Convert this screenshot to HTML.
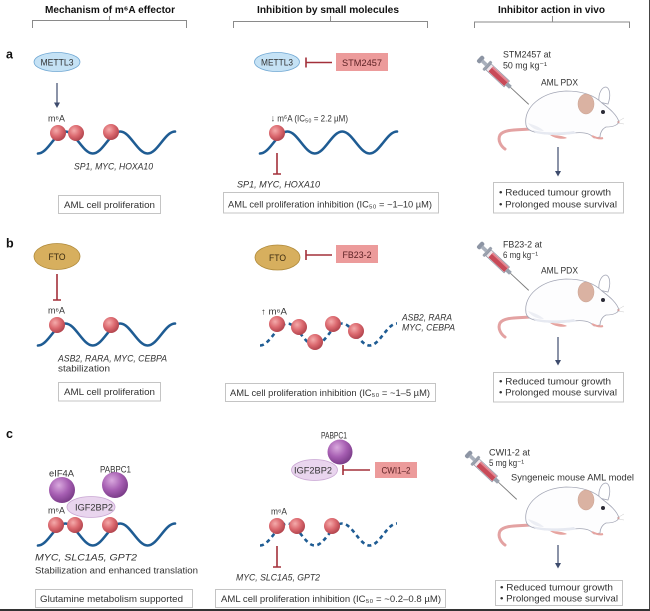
<!DOCTYPE html>
<html>
<head>
<meta charset="utf-8">
<style>
html,body{margin:0;padding:0;background:#fff;}
svg{display:block;}
text{font-family:"Liberation Sans","DejaVu Sans",sans-serif;fill:#333;}
.h{font-weight:bold;font-size:10.5px;fill:#111;}
.lab{font-weight:bold;font-size:12.5px;fill:#111;}
.t{font-size:9.5px;}
.s{font-size:9px;}
.i{font-size:9.5px;font-style:italic;}
.bx{fill:#fff;stroke:#c4c4c4;stroke-width:1;}
.red{stroke:#a3303a;stroke-width:1.6;fill:none;}
.nav{stroke:#3d4b6d;stroke-width:1.2;fill:none;}
.br{stroke:#8a8a8a;stroke-width:1;fill:none;}
.wave{stroke:#1f5c93;stroke-width:2.6;fill:none;stroke-linecap:round;}
.dash{stroke:#1f5c93;stroke-width:2.6;fill:none;stroke-dasharray:4 3.5;}
</style>
</head>
<body>
<svg width="650" height="611" viewBox="0 0 650 611" xmlns="http://www.w3.org/2000/svg">
<defs>
  <radialGradient id="m6" cx="38%" cy="35%" r="65%">
    <stop offset="0" stop-color="#f4abab"/>
    <stop offset="0.55" stop-color="#dc6a70"/>
    <stop offset="1" stop-color="#b4464f"/>
  </radialGradient>
  <radialGradient id="pur" cx="38%" cy="32%" r="70%">
    <stop offset="0" stop-color="#d9a9de"/>
    <stop offset="0.55" stop-color="#a65eb2"/>
    <stop offset="1" stop-color="#7a3c88"/>
  </radialGradient>
  <path id="wv" d="M0,11 C10,11 17.4,-11 27.4,-11 S44.8,11 54.8,11 S72.2,-11 82.2,-11 S99.6,11 109.6,11 S127,-11 137,-11"/>
  <g id="syr">
    <rect x="0" y="-4.2" width="4.5" height="8.4" rx="2" fill="#8d95a4"/>
    <rect x="4" y="-1.8" width="6" height="3.6" fill="#a9b0bc"/>
    <rect x="10" y="-6" width="3" height="12" rx="1" fill="#9aa1ad"/>
    <rect x="13" y="-4" width="25" height="8" fill="#f1e6ea" stroke="#8d95a4" stroke-width="0.7"/>
    <rect x="16" y="-3.3" width="21.5" height="6.6" fill="#c84a58"/>
    <rect x="16" y="-3.3" width="21.5" height="1.8" fill="#e38590"/>
    <rect x="38" y="-2" width="5" height="4" fill="#9aa1ad"/>
    <line x1="43" y1="0" x2="68" y2="0" stroke="#7a7a7a" stroke-width="0.9"/>
  </g>
  <g id="mouse">
    <path d="M10,44 C-2,45 -16,44 -20,50 C-23,56 -18,62 -15,64" stroke="#e3a2a2" stroke-width="3" fill="none" stroke-linecap="round"/>
    <path d="M79,17 C78,8 82,2 86,2 C90,3 91,11 88,19 Z" fill="#fff" stroke="#a3a6b5" stroke-width="0.8"/>
    <path d="M6,40 C3,22 22,7 46,6 C62,6 74,10 82,18 C90,24 97,30 99,37 C97,41 92,42 86,42 C82,44 80,48 80,52 L74,53 C70,48 62,47 54,48 C44,50 30,50 20,48 C12,47 7,45 6,40 Z" fill="#fdfdfe" stroke="#a3a6b5" stroke-width="0.8"/>
    <path d="M12,45 C24,48 42,48 54,46 L56,48.5 C44,50.5 26,50.5 16,48 Z" fill="#e6e9f1"/>
    <path d="M8,38 C12,44 18,46 24,46 C20,42 14,40 8,38 Z" fill="#eceef4"/>
    <ellipse cx="66" cy="19" rx="8" ry="10" fill="#dab2a2" stroke="#c9a090" stroke-width="0.5"/>
    <circle cx="83" cy="27" r="2" fill="#2a2a35"/>
    <circle cx="98.5" cy="37" r="1.1" fill="#d49a9a"/>
    <path d="M97,37 L104,33 M97,38 L104,39" stroke="#bbb" stroke-width="0.4"/>
    <path d="M30,50 C34,53 42,55 47,53 C44,51 36,50 30,50Z" fill="#e6a4a0"/>
    <path d="M72,51 C76,53 80,54 83,53" stroke="#e6a4a0" stroke-width="2" fill="none"/>
  </g>
</defs>

<!-- frame lines -->
<line x1="649.5" y1="0" x2="649.5" y2="611" stroke="#444" stroke-width="1"/>
<rect x="0" y="609" width="650" height="2" fill="#333"/>

<!-- headers -->
<text class="h" x="45" y="13" textLength="130" lengthAdjust="spacingAndGlyphs">Mechanism of m⁶A effector</text>
<text class="h" x="257" y="13" textLength="142" lengthAdjust="spacingAndGlyphs">Inhibition by small molecules</text>
<text class="h" x="498" y="13" textLength="107" lengthAdjust="spacingAndGlyphs">Inhibitor action in vivo</text>
<path class="br" d="M32.5,28 V20.5 H186.5 V28 M109.5,20.5 V16"/>
<path class="br" d="M233.5,28 V21.5 H427.5 V28 M330.5,21.5 V16"/>
<path class="br" d="M474.5,28 V22 H629.5 V28 M552.5,22 V16"/>

<!-- row labels -->
<text class="lab" x="6" y="58.5">a</text>
<text class="lab" x="6" y="247.5">b</text>
<text class="lab" x="6" y="438">c</text>

<!-- ============ ROW A ============ -->
<!-- left -->
<ellipse cx="57" cy="62" rx="23" ry="9.5" fill="#c5e2f5" stroke="#6ea6d2" stroke-width="0.8"/>
<text x="57" y="65.3" text-anchor="middle" font-size="9" textLength="33" lengthAdjust="spacingAndGlyphs">METTL3</text>
<path class="nav" d="M57,83 V104"/>
<polygon points="54,102.5 60,102.5 57,108" fill="#3d4b6d"/>
<text class="s" x="48" y="121.5" textLength="17" lengthAdjust="spacingAndGlyphs">m⁶A</text>
<use href="#wv" class="wave" transform="translate(38,142.5)"/>
<circle cx="58" cy="133" r="8" fill="url(#m6)"/>
<circle cx="76" cy="133" r="8" fill="url(#m6)"/>
<circle cx="111" cy="132" r="8" fill="url(#m6)"/>
<text class="i" x="74" y="169.5" textLength="79" lengthAdjust="spacingAndGlyphs">SP1, MYC, HOXA10</text>
<rect class="bx" x="58.5" y="195.5" width="102" height="18"/>
<text class="t" x="64" y="207.8" textLength="91" lengthAdjust="spacingAndGlyphs">AML cell proliferation</text>

<!-- middle -->
<ellipse cx="277" cy="62" rx="22.5" ry="9.5" fill="#c5e2f5" stroke="#6ea6d2" stroke-width="0.8"/>
<text x="277" y="65.3" text-anchor="middle" font-size="9" textLength="32" lengthAdjust="spacingAndGlyphs">METTL3</text>
<path class="red" d="M306,62.5 H332 M306,57.5 V67.5"/>
<rect x="336" y="53" width="52" height="18" fill="#ec9b9b"/>
<text class="t" x="362" y="65.8" text-anchor="middle" textLength="40" lengthAdjust="spacingAndGlyphs" style="fill:#5a1f22">STM2457</text>
<text x="271" y="121.5" font-size="9.5" textLength="77" lengthAdjust="spacingAndGlyphs">↓ m⁶A (IC₅₀ = 2.2 µM)</text>
<use href="#wv" class="wave" transform="translate(260,142.5)"/>
<circle cx="277" cy="133" r="8" fill="url(#m6)"/>
<path class="red" d="M277,153 V174 M273,174 H281"/>
<text class="i" x="237" y="187.5" textLength="83" lengthAdjust="spacingAndGlyphs">SP1, MYC, HOXA10</text>
<rect class="bx" x="223.5" y="192.5" width="215" height="20.5"/>
<text class="t" x="228" y="207.5" textLength="204" lengthAdjust="spacingAndGlyphs">AML cell proliferation inhibition (IC₅₀ = ~1–10 µM)</text>

<!-- right -->
<text class="s" x="503" y="57.5" textLength="48" lengthAdjust="spacingAndGlyphs">STM2457 at</text>
<text class="s" x="503" y="68.5" textLength="44" lengthAdjust="spacingAndGlyphs">50 mg kg⁻¹</text>
<text class="s" x="541" y="85.5" textLength="37" lengthAdjust="spacingAndGlyphs">AML PDX</text>
<use href="#syr" transform="translate(479,58) rotate(43)"/>
<use href="#mouse" transform="translate(520,85)"/>
<path class="nav" d="M558,147 V172"/>
<polygon points="555,171 561,171 558,176.5" fill="#3d4b6d"/>
<rect class="bx" x="493.5" y="182.5" width="130" height="30.5"/>
<text class="t" x="499" y="195.5" textLength="112" lengthAdjust="spacingAndGlyphs">• Reduced tumour growth</text>
<text class="t" x="499" y="207.5" textLength="118" lengthAdjust="spacingAndGlyphs">• Prolonged mouse survival</text>

<!-- ============ ROW B ============ -->
<!-- left -->
<ellipse cx="57" cy="256.5" rx="23" ry="13" fill="#d7af5e" stroke="#b08a3a" stroke-width="0.8"/>
<text x="57" y="259.8" text-anchor="middle" font-size="9.5" textLength="17" lengthAdjust="spacingAndGlyphs" style="fill:#3a2a10">FTO</text>
<path class="red" d="M57,274 V300 M53,300 H61"/>
<text class="s" x="48" y="313.5" textLength="17" lengthAdjust="spacingAndGlyphs">m⁶A</text>
<use href="#wv" class="wave" transform="translate(38,334.5)"/>
<circle cx="57" cy="325" r="8" fill="url(#m6)"/>
<circle cx="111" cy="325" r="8" fill="url(#m6)"/>
<text class="i" x="58" y="361.5" textLength="109" lengthAdjust="spacingAndGlyphs">ASB2, RARA, MYC, CEBPA</text>
<text class="t" x="58" y="371.5" textLength="52" lengthAdjust="spacingAndGlyphs">stabilization</text>
<rect class="bx" x="58.5" y="382.5" width="102" height="18.5"/>
<text class="t" x="64" y="395" textLength="91" lengthAdjust="spacingAndGlyphs">AML cell proliferation</text>

<!-- middle -->
<ellipse cx="277.5" cy="257.5" rx="22.5" ry="12.5" fill="#d7af5e" stroke="#b08a3a" stroke-width="0.8"/>
<text x="277.5" y="260.8" text-anchor="middle" font-size="9.5" textLength="17" lengthAdjust="spacingAndGlyphs" style="fill:#3a2a10">FTO</text>
<path class="red" d="M306,255 H332 M306,250 V260"/>
<rect x="336" y="245" width="42" height="18" fill="#ec9b9b"/>
<text class="t" x="357" y="257.8" text-anchor="middle" textLength="29" lengthAdjust="spacingAndGlyphs" style="fill:#5a1f22">FB23-2</text>
<text class="s" x="261" y="314.5" textLength="26" lengthAdjust="spacingAndGlyphs">↑ m⁶A</text>
<use href="#wv" class="dash" transform="translate(260,334.5)"/>
<circle cx="277" cy="324" r="8" fill="url(#m6)"/>
<circle cx="299" cy="327" r="8" fill="url(#m6)"/>
<circle cx="315" cy="342" r="8" fill="url(#m6)"/>
<circle cx="333" cy="324" r="8" fill="url(#m6)"/>
<circle cx="356" cy="331" r="8" fill="url(#m6)"/>
<text class="i" x="402" y="320.5" textLength="50" lengthAdjust="spacingAndGlyphs">ASB2, RARA</text>
<text class="i" x="402" y="330.5" textLength="53" lengthAdjust="spacingAndGlyphs">MYC, CEBPA</text>
<rect class="bx" x="225.5" y="383.5" width="210" height="18"/>
<text class="t" x="230" y="396" textLength="200" lengthAdjust="spacingAndGlyphs">AML cell proliferation inhibition (IC₅₀ = ~1–5 µM)</text>

<!-- right -->
<text class="s" x="503" y="247.5" textLength="39" lengthAdjust="spacingAndGlyphs">FB23-2 at</text>
<text class="s" x="503" y="258" textLength="35" lengthAdjust="spacingAndGlyphs">6 mg kg⁻¹</text>
<text class="s" x="541" y="273.5" textLength="37" lengthAdjust="spacingAndGlyphs">AML PDX</text>
<use href="#syr" transform="translate(479,244) rotate(43)"/>
<use href="#mouse" transform="translate(520,273)"/>
<path class="nav" d="M558,337 V361"/>
<polygon points="555,360 561,360 558,365.5" fill="#3d4b6d"/>
<rect class="bx" x="493.5" y="372.5" width="130" height="29.5"/>
<text class="t" x="499" y="384.5" textLength="112" lengthAdjust="spacingAndGlyphs">• Reduced tumour growth</text>
<text class="t" x="499" y="395.5" textLength="118" lengthAdjust="spacingAndGlyphs">• Prolonged mouse survival</text>

<!-- ============ ROW C ============ -->
<!-- left -->
<text class="s" x="49" y="476.5" textLength="25" lengthAdjust="spacingAndGlyphs">eIF4A</text>
<text class="s" x="100" y="472.5" textLength="31" lengthAdjust="spacingAndGlyphs">PABPC1</text>
<circle cx="62" cy="490" r="13" fill="url(#pur)"/>
<circle cx="115" cy="485" r="13" fill="url(#pur)"/>
<ellipse cx="91" cy="507" rx="24" ry="10.5" fill="#e9d5ee" stroke="#c9a6d3" stroke-width="0.8"/>
<text class="s" x="94" y="510.5" text-anchor="middle" textLength="38" lengthAdjust="spacingAndGlyphs">IGF2BP2</text>
<text class="s" x="48" y="513.5" textLength="17" lengthAdjust="spacingAndGlyphs">m⁶A</text>
<use href="#wv" class="wave" transform="translate(38,534.5)"/>
<circle cx="56" cy="525" r="8" fill="url(#m6)"/>
<circle cx="75" cy="525" r="8" fill="url(#m6)"/>
<circle cx="110" cy="525" r="8" fill="url(#m6)"/>
<text class="i" x="35" y="560.5" textLength="102" lengthAdjust="spacingAndGlyphs">MYC, SLC1A5, GPT2</text>
<text class="t" x="35" y="573.5" textLength="163" lengthAdjust="spacingAndGlyphs">Stabilization and enhanced translation</text>
<rect class="bx" x="35.5" y="589.5" width="157" height="18"/>
<text class="t" x="40" y="602" textLength="143" lengthAdjust="spacingAndGlyphs">Glutamine metabolism supported</text>

<!-- middle -->
<text class="s" x="321" y="438.5" textLength="26" lengthAdjust="spacingAndGlyphs">PABPC1</text>
<circle cx="340" cy="452" r="12.5" fill="url(#pur)"/>
<ellipse cx="314.5" cy="470" rx="23" ry="10.5" fill="#e9d5ee" stroke="#c9a6d3" stroke-width="0.8"/>
<text class="s" x="313" y="473.5" text-anchor="middle" textLength="38" lengthAdjust="spacingAndGlyphs">IGF2BP2</text>
<path class="red" d="M343,470 H370 M343,465 V475"/>
<rect x="375" y="462" width="42" height="16" fill="#ec9b9b"/>
<text class="s" x="396" y="473.5" text-anchor="middle" textLength="29" lengthAdjust="spacingAndGlyphs" style="fill:#5a1f22">CWI1–2</text>
<text class="s" x="271" y="514.5" textLength="16" lengthAdjust="spacingAndGlyphs">m⁶A</text>
<use href="#wv" class="dash" transform="translate(260,534.5)"/>
<circle cx="277" cy="526" r="8" fill="url(#m6)"/>
<circle cx="297" cy="526" r="8" fill="url(#m6)"/>
<circle cx="332" cy="526" r="8" fill="url(#m6)"/>
<path class="red" d="M277,546 V567 M273,567 H281"/>
<text class="i" x="236" y="580.5" textLength="84" lengthAdjust="spacingAndGlyphs">MYC, SLC1A5, GPT2</text>
<rect class="bx" x="215.5" y="589.5" width="230" height="18"/>
<text class="t" x="221" y="602" textLength="220" lengthAdjust="spacingAndGlyphs">AML cell proliferation inhibition (IC₅₀ = ~0.2–0.8 µM)</text>

<!-- right -->
<text class="s" x="489" y="455.5" textLength="41" lengthAdjust="spacingAndGlyphs">CWI1-2 at</text>
<text class="s" x="489" y="466" textLength="35" lengthAdjust="spacingAndGlyphs">5 mg kg⁻¹</text>
<text class="s" x="511" y="480.5" textLength="123" lengthAdjust="spacingAndGlyphs">Syngeneic mouse AML model</text>
<use href="#syr" transform="translate(467,453) rotate(43)"/>
<use href="#mouse" transform="translate(520,481)"/>
<path class="nav" d="M558,545 V564"/>
<polygon points="555,563 561,563 558,568.5" fill="#3d4b6d"/>
<rect class="bx" x="495.5" y="580.5" width="127" height="25"/>
<text class="t" x="500" y="590.5" textLength="113" lengthAdjust="spacingAndGlyphs">• Reduced tumour growth</text>
<text class="t" x="500" y="601.5" textLength="118" lengthAdjust="spacingAndGlyphs">• Prolonged mouse survival</text>
</svg>
</body>
</html>
